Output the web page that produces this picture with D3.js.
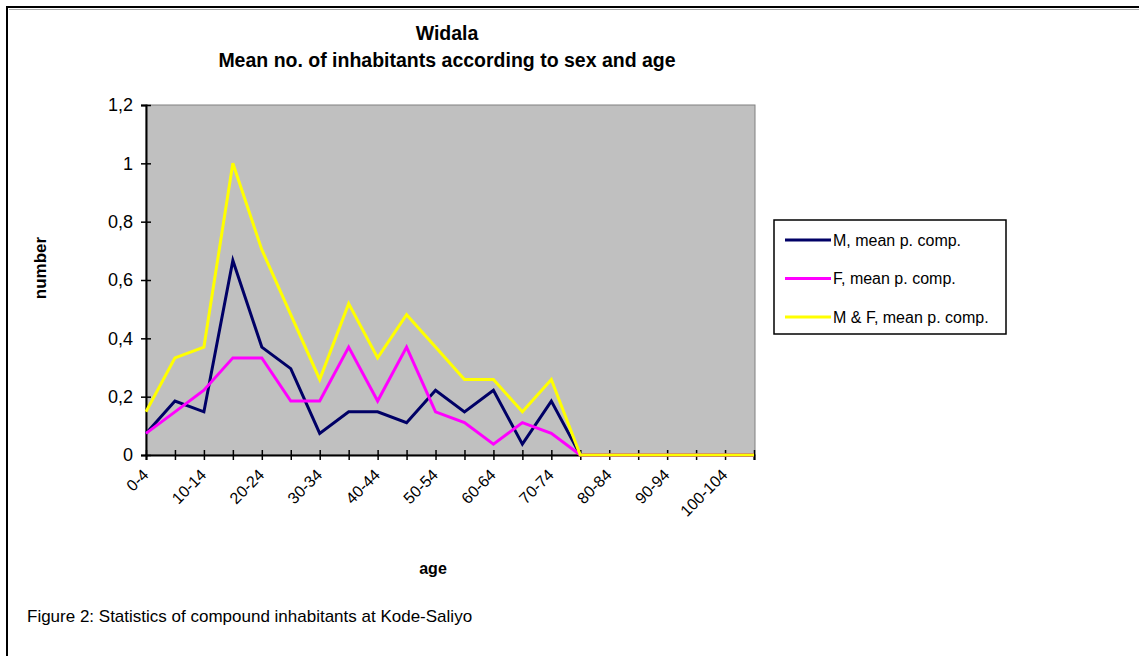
<!DOCTYPE html>
<html>
<head>
<meta charset="utf-8">
<script src="https://cdn.jsdelivr.net/npm/d3@7"></script>
<style>
  html, body { margin: 0; padding: 0; background: #fff; }
  svg { display: block; font-family: Arial, "Liberation Sans", sans-serif; }
</style>
</head>
<body>
<svg id="chart" width="1139" height="656"></svg>
<script>
// Age groups (5-year bands)
const categories = ["0-4","5-9","10-14","15-19","20-24","25-29","30-34","35-39","40-44","45-49",
  "50-54","55-59","60-64","65-69","70-74","75-79","80-84","85-89","90-94","95-99","100-104","105-109"];

// Mean number of inhabitants per compound
const maleMean   = [0.074,0.185,0.148,0.667,0.370,0.296,0.074,0.148,0.148,0.111,0.222,0.148,0.222,0.037,0.185,0,0,0,0,0,0,0];
const femaleMean = [0.074,0.148,0.222,0.333,0.333,0.185,0.185,0.370,0.185,0.370,0.148,0.111,0.037,0.111,0.074,0,0,0,0,0,0,0];
const bothMean   = [0.148,0.333,0.370,1.000,0.704,0.481,0.259,0.519,0.333,0.481,0.370,0.259,0.259,0.148,0.259,0,0,0,0,0,0,0];

const seriesNames = ["M, mean p. comp.", "F, mean p. comp.", "M & F, mean p. comp."];
const seriesColors = ["#000066", "#ff00ff", "#ffff00"];
const yTicks = [0, 0.2, 0.4, 0.6, 0.8, 1, 1.2];

const series = [maleMean, femaleMean, bothMean].map((vals, i) => ({
  name: seriesNames[i], color: seriesColors[i], values: vals
}));

const svg = d3.select("#chart");

// Outer figure frame
svg.append("rect").attr("x", 7).attr("y", 7).attr("width", 1200).attr("height", 700)
  .attr("fill", "none").attr("stroke", "#000").attr("stroke-width", 2);
svg.append("line").attr("x1", 9).attr("x2", 1139).attr("y1", 9.5).attr("y2", 9.5)
  .attr("stroke", "#aaa").attr("stroke-width", 1);

const plot = { left: 146, right: 755, top: 105, bottom: 455 };

const x = d3.scalePoint().domain(categories).range([plot.left, plot.right - 1]).padding(0);
const y = d3.scaleLinear().domain([0, 1.2]).range([plot.bottom, plot.top]);

// Plot background
svg.append("rect")
  .attr("x", plot.left).attr("y", plot.top)
  .attr("width", plot.right - plot.left).attr("height", plot.bottom - plot.top)
  .attr("fill", "#c0c0c0").attr("stroke", "#808080").attr("stroke-width", 1);

// Titles
svg.append("text").attr("x", 447).attr("y", 40).attr("text-anchor", "middle")
  .attr("font-weight", "bold").attr("font-size", 19.5).text("Widala");
svg.append("text").attr("x", 447).attr("y", 67).attr("text-anchor", "middle")
  .attr("font-weight", "bold").attr("font-size", 19.5).text("Mean no. of inhabitants according to sex and age");

// Y axis
const yAxis = d3.axisLeft(y).tickValues(yTicks).tickSize(5).tickPadding(8)
  .tickFormat(d => String(d).replace(".", ","));
const gy = svg.append("g").attr("transform", `translate(${plot.left},0)`).call(yAxis);
gy.select(".domain").attr("stroke", "#000").attr("stroke-width", 2);
gy.selectAll(".tick line").attr("stroke", "#000").attr("stroke-width", 1.5).attr("x2", -5).attr("x1", 5);
gy.selectAll(".tick text").attr("font-size", 18).attr("fill", "#000")
  .attr("font-family", "Arial, 'Liberation Sans', sans-serif");

// X axis
const xAxis = d3.axisBottom(x).tickSize(5).tickPadding(4)
  .tickFormat((d, i) => i % 2 === 0 ? d : "");
const gx = svg.append("g").attr("transform", `translate(0,${plot.bottom})`).call(xAxis);
gx.select(".domain").attr("stroke", "#000").attr("stroke-width", 2);
gx.selectAll(".tick line").attr("stroke", "#000").attr("stroke-width", 1.5).attr("y1", -5).attr("y2", 5);
gx.selectAll(".tick text")
  .attr("font-size", 16).attr("fill", "#000")
  .attr("font-family", "Arial, 'Liberation Sans', sans-serif")
  .attr("text-anchor", "end")
  .attr("transform", "translate(-1,17) rotate(-45)")
  .attr("y", 0).attr("dy", "0.35em");

// Axis titles
svg.append("text").attr("transform", "translate(46,268) rotate(-90)")
  .attr("text-anchor", "middle").attr("font-weight", "bold").attr("font-size", 17).text("number");
svg.append("text").attr("x", 433).attr("y", 574).attr("text-anchor", "middle")
  .attr("font-weight", "bold").attr("font-size", 16).text("age");

// Series lines
const line = d3.line().x((d, i) => x(categories[i])).y(d => y(d));
svg.append("g").selectAll("path").data(series).join("path")
  .attr("d", d => line(d.values))
  .attr("fill", "none").attr("stroke", d => d.color)
  .attr("stroke-width", 3).attr("stroke-linejoin", "miter");

// Legend
const lg = svg.append("g");
lg.append("rect").attr("x", 774).attr("y", 220).attr("width", 232).attr("height", 114)
  .attr("fill", "#fff").attr("stroke", "#000").attr("stroke-width", 1.5);
const items = lg.selectAll("g.item").data(series).join("g").attr("class", "item")
  .attr("transform", (d, i) => `translate(0,${240 + i * 38.5})`);
items.append("line").attr("x1", 785).attr("x2", 831).attr("y1", 0).attr("y2", 0)
  .attr("stroke", d => d.color).attr("stroke-width", 3);
items.append("text").attr("x", 833).attr("y", 0).attr("dy", "0.35em")
  .attr("font-size", 16).text(d => d.name);

// Caption
svg.append("text").attr("x", 27).attr("y", 622).attr("font-size", 17).text("Figure 2: Statistics of compound inhabitants at Kode-Saliyo");
</script>
</body>
</html>
